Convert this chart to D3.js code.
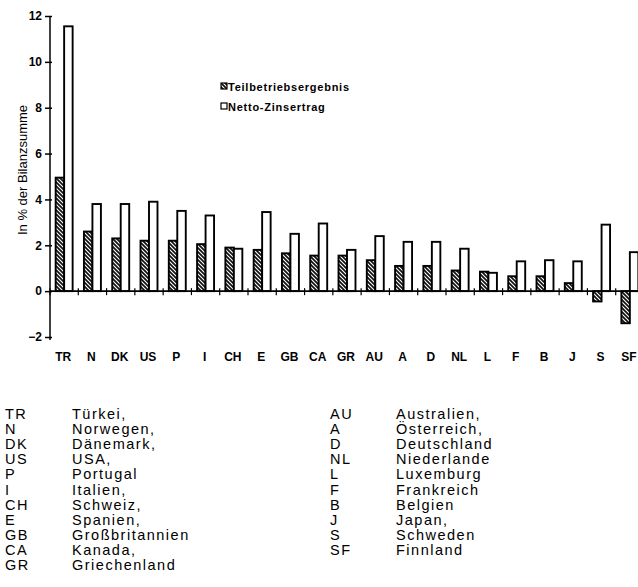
<!DOCTYPE html>
<html><head><meta charset="utf-8">
<script src="https://cdn.jsdelivr.net/npm/d3@7"></script>
<style>
body{margin:0;background:#fff;}
svg{display:block;font-family:"Liberation Sans",Arial,Helvetica,sans-serif;}
</style></head>
<body>
<svg id="c" width="638" height="587"></svg>
<script>
const categories = ["TR","N","DK","US","P","I","CH","E","GB","CA","GR","AU","A","D","NL","L","F","B","J","S","SF"];
const teilbetrieb = [4.95,2.6,2.3,2.2,2.2,2.05,1.9,1.8,1.65,1.55,1.55,1.35,1.1,1.1,0.9,0.85,0.65,0.65,0.35,-0.45,-1.4];
const netto = [11.55,3.8,3.8,3.9,3.5,3.3,1.85,3.45,2.5,2.95,1.8,2.4,2.15,2.15,1.85,0.8,1.3,1.35,1.3,2.9,1.7];
const yTicks = [-2,0,2,4,6,8,10,12];
const seriesNames = ["Teilbetriebsergebnis","Netto-Zinsertrag"];
const yTitle = "In % der Bilanzsumme";
const listLeft = [["TR","Türkei,"],["N","Norwegen,"],["DK","Dänemark,"],["US","USA,"],["P","Portugal"],["I","Italien,"],["CH","Schweiz,"],["E","Spanien,"],["GB","Großbritannien"],["CA","Kanada,"],["GR","Griechenland"]];
const listRight = [["AU","Australien,"],["A","Österreich,"],["D","Deutschland"],["NL","Niederlande"],["L","Luxemburg"],["F","Frankreich"],["B","Belgien"],["J","Japan,"],["S","Schweden"],["SF","Finnland"]];

const svg = d3.select("#c");
const defs = svg.append("defs");
const pat = defs.append("pattern").attr("id","hatch").attr("patternUnits","userSpaceOnUse")
  .attr("width",4).attr("height",4);
pat.append("rect").attr("width",4).attr("height",4).attr("fill","#111");
pat.append("path").attr("d","M-1,-1 L5,5 M-1,3 L1,5 M3,-1 L5,1").attr("stroke","#fff").attr("stroke-width",1.1);

const x = d3.scaleBand().domain(categories).range([50,644]).paddingInner(0.4).paddingOuter(0.2);
const y = d3.scaleLinear().domain([-2,12]).range([337,16]);
const x1 = d3.scaleBand().domain([0,1]).range([0,x.bandwidth()]);

// bars
const data = categories.map((c,i)=>({c, v:[teilbetrieb[i], netto[i]]}));
const g = svg.append("g");
data.forEach(d=>{
  d.v.forEach((v,k)=>{
    g.append("rect")
      .attr("x", x(d.c)+x1(k))
      .attr("y", y(Math.max(0,v)))
      .attr("width", x1.bandwidth())
      .attr("height", Math.abs(y(v)-y(0)))
      .attr("fill", k===0 ? "url(#hatch)" : "#fff")
      .attr("stroke","#000").attr("stroke-width",1.9);
  });
});

// y axis
const ya = svg.append("g").attr("transform","translate(50,0)")
  .call(d3.axisLeft(y).tickValues(yTicks).tickSize(5).tickPadding(3).tickFormat(d3.format("d")));
ya.select(".domain").attr("stroke-width",1.5).attr("d","M0,16V340");
ya.selectAll(".tick line").attr("stroke-width",1.5).attr("x2",2).attr("x1",-5);
ya.selectAll("text").attr("font-size",12).attr("font-weight","bold").attr("fill","#000")
  .attr("font-family","Liberation Sans,Arial,sans-serif");

// x axis
const y0 = y(0);
svg.append("line").attr("x1",50).attr("x2",638).attr("y1",y0).attr("y2",y0)
  .attr("stroke","#000").attr("stroke-width",1.6);
const step = x.step();
categories.forEach(c=>{
  const b = x(c) - (step - x.bandwidth())/2;
  svg.append("line").attr("x1",b).attr("x2",b).attr("y1",y0-3).attr("y2",y0+4)
    .attr("stroke","#000").attr("stroke-width",1.2);
});
svg.append("g").selectAll("text").data(categories).join("text")
  .attr("x",d=>x(d)+x.bandwidth()/2 - 1)
  .attr("y",361)
  .attr("text-anchor","middle")
  .attr("font-size",12).attr("font-weight","bold")
  .text(d=>d);

// y title
svg.append("text").attr("transform","translate(27,170) rotate(-90)")
  .attr("text-anchor","middle").attr("font-size",13).text(yTitle);

// legend
const lg = svg.append("g");
seriesNames.forEach((s,k)=>{
  const ly = 83 + k*20;
  lg.append("rect").attr("x",221).attr("y",ly).attr("width",6).attr("height",6)
    .attr("fill", k===0 ? "url(#hatch)" : "#fff").attr("stroke","#000").attr("stroke-width",1.2);
  lg.append("text").attr("x",228).attr("y",ly+8).attr("font-size",11).attr("font-weight","bold")
    .attr("letter-spacing",0.75).text(s);
});

// country list
function list(arr, xc, xn){
  const gl = svg.append("g").attr("font-size",14.5).attr("letter-spacing",1.5);
  gl.selectAll("text.code").data(arr).join("text").attr("class","code")
    .attr("x",xc).attr("y",(d,i)=>419+i*15.1).text(d=>d[0]);
  gl.selectAll("text.name").data(arr).join("text").attr("class","name")
    .attr("x",xn).attr("y",(d,i)=>419+i*15.1).text(d=>d[1]);
}
list(listLeft, 5, 72);
list(listRight, 330, 396);
</script>
</body></html>
